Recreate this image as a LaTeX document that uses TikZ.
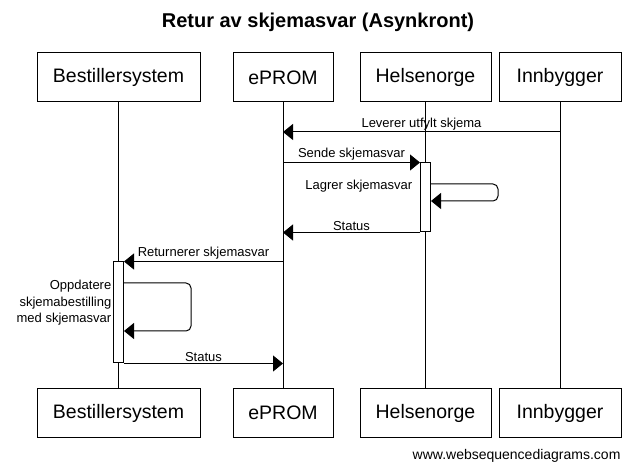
\documentclass[tikz,border=0pt]{standalone}
\usepackage{fontspec}
\setmainfont{Liberation Sans}
\usetikzlibrary{arrows.meta,positioning}

\tikzset{
    actor/.style={draw=black, rectangle, line width=1pt, minimum height=49pt, font=\fontsize{19.5}{22}\selectfont},
    lifeline/.style={draw=black, line width=1pt},
    actbox/.style={draw=black, fill=white, rectangle, line width=1pt, minimum width=10pt, inner sep=0pt},
    msg/.style={line width=1pt, -{Triangle[length=10pt,width=16pt]}},
    lbl/.style={font=\fontsize{13}{16.5}\selectfont, inner sep=1.5pt},
}

\begin{document}
\begin{tikzpicture}[x=1pt, y=-1pt]
    \useasboundingbox (0,0) rectangle (633,473);

    % title
    \node[font=\fontsize{20}{24}\selectfont\bfseries](title) at (318,22){Retur av skjemasvar (Asynkront)};

    % participants, top and bottom
    \node[actor, minimum width=163pt](bestT) at (118.5,77.5){Bestillersystem};
    \node[actor, minimum width=100pt](epT) at (283,77.5){ePROM};
    \node[actor, minimum width=131pt](helT) at (425.5,77.5){Helsenorge};
    \node[actor, minimum width=122pt](innT) at (560,77.5){Innbygger};
    \node[actor, minimum width=163pt](bestB) at (118.5,413){Bestillersystem};
    \node[actor, minimum width=100pt](epB) at (283,413){ePROM};
    \node[actor, minimum width=131pt](helB) at (425.5,413){Helsenorge};
    \node[actor, minimum width=122pt](innB) at (560,413){Innbygger};

    % lifelines
    \draw[lifeline] (bestT) -- (bestB);
    \draw[lifeline] (epT) -- (epB);
    \draw[lifeline] (helT) -- (helB);
    \draw[lifeline] (innT) -- (innB);

    % activations
    \node[actbox, minimum height=69pt](actH) at (425.5,197.5){};
    \node[actbox, minimum height=101pt](actB) at (118.5,312.5){};

    % Leverer utfylt skjema
    \coordinate (inn1) at (innT.south |- 0,132);
    \coordinate (ep1) at (epT.south |- 0,132);
    \draw[msg] (inn1) -- (ep1) node[lbl, midway, above]{Leverer utfylt skjema};

    % Sende skjemasvar
    \coordinate (ep2) at (epT.south |- actH.north);
    \draw[msg] (ep2) -- (actH.north west) node[lbl, midway, above]{Sende skjemasvar};

    % Lagrer skjemasvar (self)
    \coordinate (hs1) at (actH.east |- 0,184);
    \coordinate (hs2) at (actH.east |- 0,201);
    \draw[msg, rounded corners=5pt] (hs1) -- ++(67,0) |- (hs2);
    \node[lbl, anchor=east](lagrer) at (414,186){Lagrer skjemasvar};

    % Status
    \coordinate (ep3) at (epT.south |- actH.south);
    \draw[msg] (actH.south west) -- (ep3) node[lbl, midway, above]{Status};

    % Returnerer skjemasvar
    \coordinate (ep4) at (epT.south |- actB.north);
    \draw[msg] (ep4) -- (actB.north east) node[lbl, midway, above]{Returnerer skjemasvar};

    % Oppdatere (self)
    \coordinate (bs1) at (actB.east |- 0,283);
    \coordinate (bs2) at (actB.east |- 0,331);
    \draw[msg, rounded corners=5pt] (bs1) -- ++(67,0) |- (bs2);
    \node[lbl, anchor=east, align=right](oppdatere) at (113,303){Oppdatere\\skjemabestilling\\med skjemasvar};

    % Status
    \coordinate (ep5) at (epT.south |- actB.south);
    \draw[msg] (actB.south east) -- (ep5) node[lbl, midway, above]{Status};

    % footer
    \node[font=\fontsize{14}{16}\selectfont, anchor=east](footer) at (624,456){www.websequencediagrams.com};
\end{tikzpicture}
\end{document}
